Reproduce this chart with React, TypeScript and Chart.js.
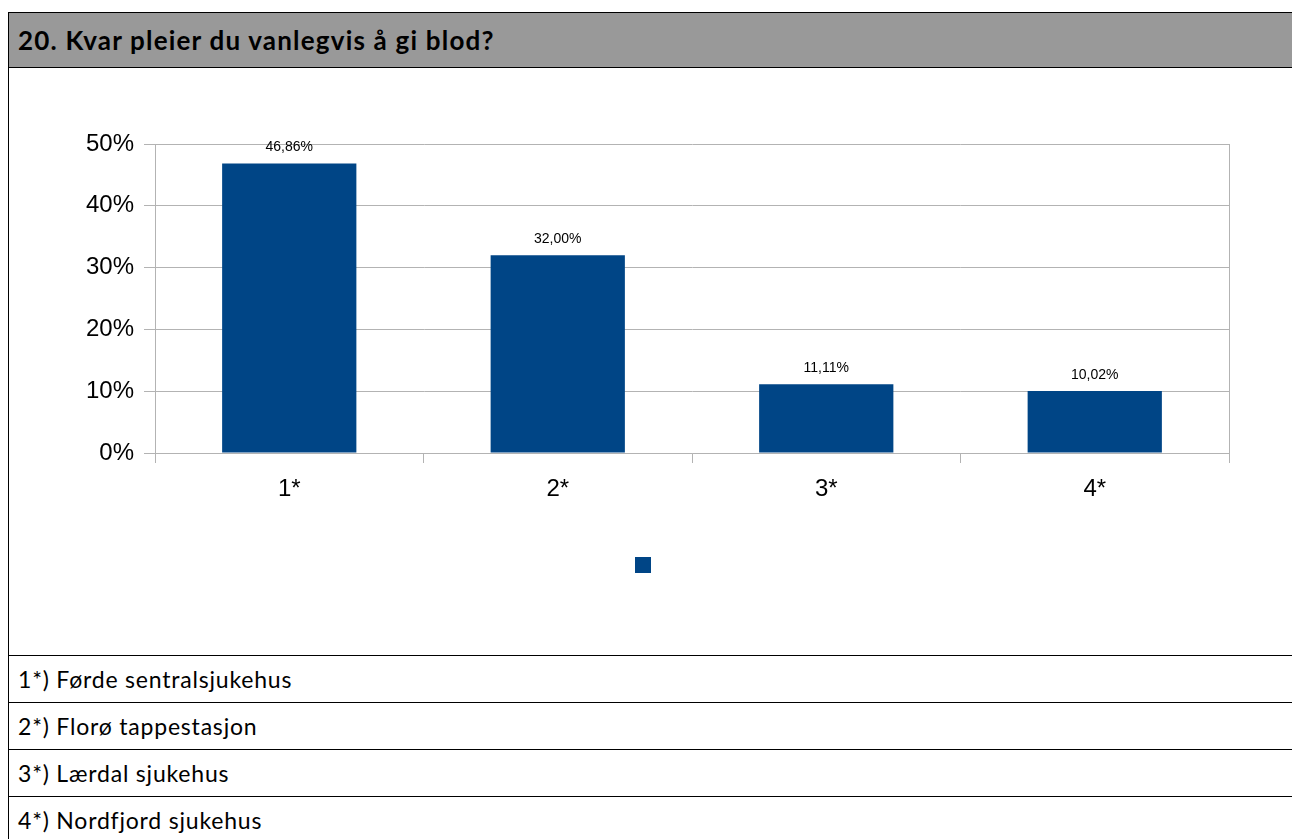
import React, { useEffect, useRef } from "react";
import { Chart, registerables } from "chart.js";

Chart.register(...registerables);

const title = "20. Kvar pleier du vanlegvis å gi blod?";
const categories = ["1*", "2*", "3*", "4*"];
const values = [46.86, 32.0, 11.11, 10.02];
const valueLabels = ["46,86%", "32,00%", "11,11%", "10,02%"];
const yTicks = [0, 10, 20, 30, 40, 50];
const footnotes = [
  "1*) Førde sentralsjukehus",
  "2*) Florø tappestasjon",
  "3*) Lærdal sjukehus",
  "4*) Nordfjord sjukehus",
];

const BAR = "#004586";
const GRID = "#b3b3b3";

const valueLabelPlugin = {
  id: "valueLabels",
  afterDatasetsDraw(chart: any) {
    const ctx = chart.ctx;
    const meta = chart.getDatasetMeta(0);
    ctx.save();
    ctx.font = "14px 'Liberation Sans', Arial, sans-serif";
    ctx.fillStyle = "#000";
    ctx.textAlign = "center";
    ctx.textBaseline = "middle";
    meta.data.forEach((el: any, i: number) => {
      ctx.fillText(valueLabels[i], el.x, el.y - 16);
    });
    ctx.restore();
  },
};

function BarChart() {
  const ref = useRef<HTMLCanvasElement>(null);
  useEffect(() => {
    if (!ref.current) return;
    const chart = new Chart(ref.current, {
      type: "bar",
      data: {
        labels: categories,
        datasets: [
          {
            label: "",
            data: values,
            backgroundColor: BAR,
            borderWidth: 0,
            barPercentage: 0.5,
            categoryPercentage: 1,
          },
        ],
      },
      options: {
        animation: false,
        responsive: false,
        maintainAspectRatio: false,
        layout: { padding: { top: 76, bottom: 72, left: 0, right: 0 } },
        plugins: {
          legend: {
            display: true,
            position: "bottom",
            labels: {
              boxWidth: 16,
              boxHeight: 16,
              padding: 10,
              font: { size: 12 },
            },
          },
          tooltip: { enabled: false },
        },
        scales: {
          x: {
            offset: true,
            grid: {
              offset: true,
              drawOnChartArea: false,
              drawTicks: true,
              tickLength: 10,
              tickColor: GRID,
              color: GRID,
            },
            border: { display: true, color: GRID },
            ticks: {
              color: "#000",
              padding: 12,
              font: { size: 24, family: "'Liberation Sans', Arial, sans-serif" },
            },
            afterFit: (s: any) => {
              s.height = 94;
            },
          },
          y: {
            min: 0,
            max: 50,
            afterBuildTicks: (s: any) => {
              s.ticks = yTicks.map((v) => ({ value: v }));
            },
            grid: {
              color: GRID,
              tickColor: GRID,
              tickLength: 11,
            },
            border: { display: true, color: GRID },
            ticks: {
              color: "#000",
              padding: 10,
              font: { size: 24, family: "'Liberation Sans', Arial, sans-serif" },
              callback: (v: any) => v + "%",
            },
            afterFit: (s: any) => {
              s.width = 146;
            },
          },
          yR: {
            type: "linear",
            position: "right",
            display: true,
            grid: { display: false },
            ticks: { display: false },
            border: { display: true, color: GRID },
            afterFit: (s: any) => {
              s.width = 54;
            },
          },
        },
      },
      plugins: [valueLabelPlugin],
    } as any);
    return () => chart.destroy();
  }, []);
  return <canvas ref={ref} width={1274} height={587} style={{ display: "block" }} />;
}

export default function App() {
  return (
    <div
      style={{
        position: "fixed",
        left: 0,
        top: 0,
        width: 1292,
        height: 839,
        overflow: "hidden",
        background: "#fff",
      }}
    >
      <div
        style={{
          position: "absolute",
          left: 8,
          top: 12,
          width: 1400,
          borderLeft: "1px solid #000",
          borderTop: "1px solid #000",
          fontFamily: "Lato, 'Open Sans', sans-serif",
          color: "#000",
        }}
      >
        <div
          style={{
            height: 54,
            lineHeight: "54px",
            background: "#999999",
            borderBottom: "1px solid #000",
            paddingLeft: 9,
            fontWeight: "bold",
            fontSize: 26,
            letterSpacing: "1.2px",
            whiteSpace: "nowrap",
          }}
        >
          {title}
        </div>
        <div style={{ height: 587 }}>
          <BarChart />
        </div>
        {footnotes.map((t) => (
          <div
            key={t}
            style={{
              height: 46,
              lineHeight: "46px",
              borderTop: "1px solid #000",
              paddingLeft: 9,
              fontSize: 23,
              letterSpacing: "0.8px",
              whiteSpace: "nowrap",
            }}
          >
            {t}
          </div>
        ))}
      </div>
    </div>
  );
}
